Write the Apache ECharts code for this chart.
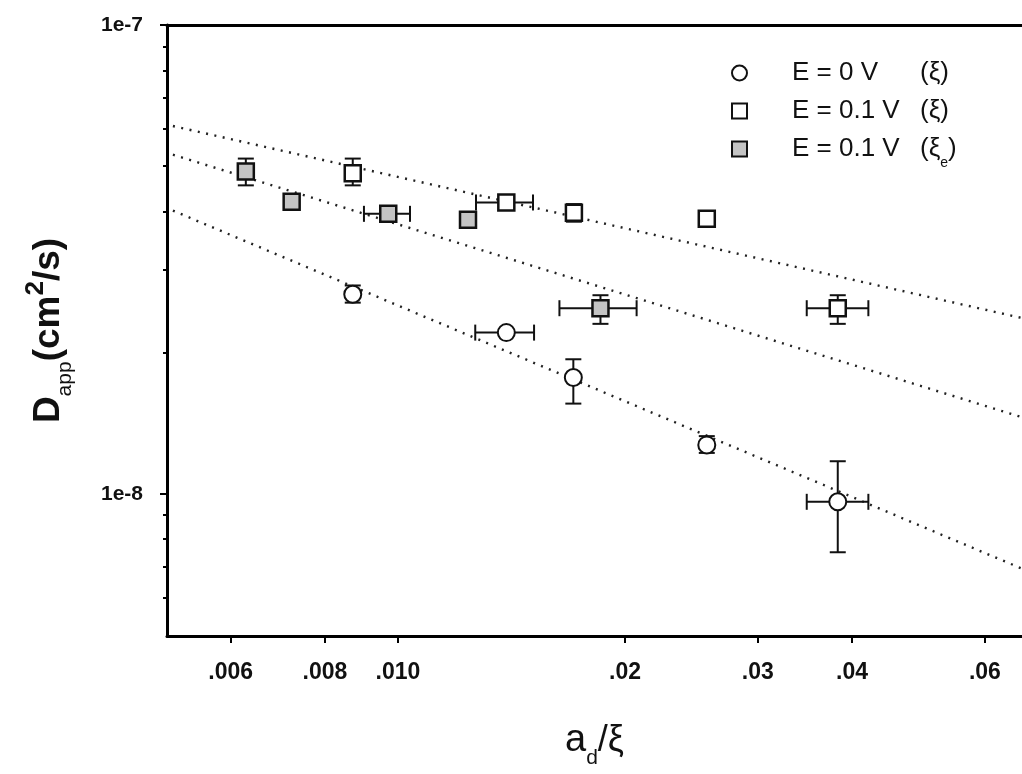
<!DOCTYPE html>
<html>
<head>
<meta charset="utf-8">
<script src="https://cdn.jsdelivr.net/npm/echarts@6/dist/echarts.min.js"></script>
<style>
  html, body { margin: 0; padding: 0; background: #fff; }
  #chart { width: 1022px; height: 774px; }
</style>
</head>
<body>
<div id="chart"></div>
<script>
// axes (both log)
const xTicks = [0.006, 0.008, 0.010, 0.02, 0.03, 0.04, 0.06];
const xTickLabels = ['.006', '.008', '.010', '.02', '.03', '.04', '.06'];
const yTicks = [1e-8, 1e-7];
const yTickLabels = ['1e-8', '1e-7'];
const yMinorTicks = [6e-9, 7e-9, 8e-9, 9e-9, 2e-8, 3e-8, 4e-8, 5e-8, 6e-8, 7e-8, 8e-8, 9e-8];

// E = 0 V (xi)
const circX = [0.00871, 0.01392, 0.01708, 0.02567, 0.03829];
const circY = [2.665e-8, 2.207e-8, 1.770e-8, 1.271e-8, 9.61e-9];
const circXLo = [null, 0.01266, null, null, 0.03483];
const circXHi = [null, 0.01515, null, null, 0.04204];
const circYLo = [2.557e-8, null, 1.557e-8, 1.222e-8, 7.50e-9];
const circYHi = [2.782e-8, null, 1.936e-8, 1.327e-8, 1.173e-8];

// E = 0.1 V (xi)
const sqX = [0.00871, 0.01392, 0.01711, 0.02567, 0.03829];
const sqY = [4.831e-8, 4.183e-8, 3.975e-8, 3.862e-8, 2.488e-8];
const sqXLo = [null, 0.01269, null, null, 0.03483];
const sqXHi = [null, 0.0151, null, null, 0.04204];
const sqYLo = [4.55e-8, null, 3.806e-8, null, 2.304e-8];
const sqYHi = [5.19e-8, null, 4.15e-8, null, 2.652e-8];

// E = 0.1 V (xi_e)
const fillX = [0.006284, 0.007228, 0.009707, 0.012383, 0.018555];
const fillY = [4.870e-8, 4.197e-8, 3.956e-8, 3.844e-8, 2.488e-8];
const fillXLo = [null, null, 0.009013, null, 0.01637];
const fillXHi = [null, null, 0.010373, null, 0.02072];
const fillYLo = [4.55e-8, null, null, null, 2.304e-8];
const fillYHi = [5.19e-8, null, null, null, 2.652e-8];

// dotted fit lines (end points)
const fitX = [0.00503, 0.0672];
const fitTop = [6.09e-8, 2.371e-8];
const fitMid = [5.29e-8, 1.456e-8];
const fitLow = [4.019e-8, 6.92e-9];

const FONT = "'Liberation Sans', Arial, sans-serif";
const NARROW = "'Liberation Sans Narrow', 'Arial Narrow', 'Liberation Sans', Arial, sans-serif";

function pts(xs, ys) {
  return xs.map((x, i) => [x, ys[i]]);
}
function errRows(xs, ys, xlo, xhi, ylo, yhi) {
  return xs.map((x, i) => [x, ys[i],
    xlo[i] != null ? xlo[i] : x, xhi[i] != null ? xhi[i] : x,
    ylo[i] != null ? ylo[i] : ys[i], yhi[i] != null ? yhi[i] : ys[i]]);
}

function line(a, b) {
  return { type: 'line', shape: { x1: a[0], y1: a[1], x2: b[0], y2: b[1] },
    style: { stroke: '#111', lineWidth: 2 } };
}

// error bars with caps
function renderErr(params, api) {
  const x = api.value(0), y = api.value(1);
  const cap = 8;
  const kids = [];
  if (api.value(2) !== api.value(3)) {
    const a = api.coord([api.value(2), y]), b = api.coord([api.value(3), y]);
    kids.push(line(a, b));
    kids.push(line([a[0], a[1] - cap], [a[0], a[1] + cap]));
    kids.push(line([b[0], b[1] - cap], [b[0], b[1] + cap]));
  }
  if (api.value(4) !== api.value(5)) {
    const a = api.coord([x, api.value(4)]), b = api.coord([x, api.value(5)]);
    kids.push(line(a, b));
    kids.push(line([a[0] - cap, a[1]], [a[0] + cap, a[1]]));
    kids.push(line([b[0] - cap, b[1]], [b[0] + cap, b[1]]));
  }
  return { type: 'group', children: kids };
}

const legendText = {
  'c': '{a|E = 0 V}{b|(ξ)}',
  's': '{a|E = 0.1 V}{b|(ξ)}',
  'f': '{a|E = 0.1 V}{b|(ξ}{e|e}{b|)}'
};

let myChart = echarts.init(document.getElementById('chart'));
const xBase = { type: 'log', min: 0.00494, max: 0.0672, logBase: 10 };
const yBase = { type: 'log', min: 4.97e-9, max: 1.0005e-7, logBase: 10 };
const axisBlack = { show: true, lineStyle: { color: '#000', width: 3 } };

var option = {
  backgroundColor: '#fff',
  animation: false,
  grid: { left: 167, right: 0, top: 25, bottom: 123 },
  legend: {
    orient: 'vertical',
    left: 726,
    top: 55,
    itemWidth: 15,
    itemHeight: 15,
    itemGap: 12,
    data: ['c', 's', 'f'],
    formatter: function (name) { return legendText[name]; },
    textStyle: {
      padding: [0, 0, 0, 40],
      rich: {
        a: { fontSize: 26, fontFamily: FONT, color: '#111', width: 128 },
        b: { fontSize: 26, fontFamily: FONT, color: '#111' },
        e: { fontSize: 14, fontFamily: FONT, color: '#111', verticalAlign: 'bottom', padding: [0, 0, -8, 0] }
      }
    }
  },
  xAxis: [
    Object.assign({}, xBase, {
      position: 'bottom',
      axisLine: axisBlack,
      splitLine: { show: false },
      axisTick: { customValues: xTicks, length: 7, lineStyle: { color: '#000', width: 2 } },
      axisLabel: {
        customValues: xTicks,
        margin: 25,
        fontSize: 23,
        fontWeight: 'bold',
        fontFamily: FONT,
        color: '#111',
        formatter: function (v) {
          const i = xTicks.findIndex(t => Math.abs(t - v) / t < 1e-6);
          return i >= 0 ? xTickLabels[i] : '';
        }
      },
      name: '{a|a}{d|d}{b|/ξ}',
      nameLocation: 'middle',
      nameGap: 86,
      nameTextStyle: {
        rich: {
          a: { fontSize: 38, fontFamily: NARROW, color: '#111' },
          d: { fontSize: 21, fontFamily: NARROW, color: '#111', verticalAlign: 'bottom', padding: [0, 0, -9, 0] },
          b: { fontSize: 36, fontFamily: NARROW, color: '#111' }
        }
      }
    }),
    Object.assign({}, xBase, {
      position: 'top',
      axisLine: axisBlack,
      axisTick: { show: false },
      axisLabel: { show: false },
      splitLine: { show: false }
    })
  ],
  yAxis: [
    Object.assign({}, yBase, {
      position: 'left',
      axisLine: axisBlack,
      splitLine: { show: false },
      axisTick: { customValues: yTicks, length: 7, lineStyle: { color: '#000', width: 2 } },
      axisLabel: {
        customValues: yTicks,
        margin: 24,
        fontSize: 21,
        fontWeight: 'bold',
        fontFamily: FONT,
        color: '#111',
        formatter: function (v) {
          const i = yTicks.findIndex(t => Math.abs(t - v) / t < 1e-6);
          return i >= 0 ? yTickLabels[i] : '';
        }
      },
      name: '{d|D}{sub|app}{m|(cm}{sup|2}{m|/s)}',
      nameLocation: 'middle',
      nameRotate: 90,
      nameGap: 100,
      nameTextStyle: {
        rich: {
          d: { fontSize: 37, fontWeight: 'bold', fontFamily: FONT, color: '#111' },
          sub: { fontSize: 21, fontFamily: NARROW, color: '#111', verticalAlign: 'bottom', padding: [0, 0, -9, 0] },
          m: { fontSize: 37, fontWeight: 'bold', fontFamily: FONT, color: '#111' },
          sup: { fontSize: 26, fontWeight: 'bold', fontFamily: FONT, color: '#111', verticalAlign: 'top', padding: [-7, 0, 0, 0] }
        }
      }
    }),
    Object.assign({}, yBase, {
      position: 'left',
      axisLine: { show: false },
      axisLabel: { show: false },
      splitLine: { show: false },
      axisTick: { customValues: yMinorTicks, length: 4, lineStyle: { color: '#000', width: 2 } }
    })
  ],
  series: [
    {
      name: 'fitTop', type: 'line', silent: true, showSymbol: false, z: 1,
      data: pts(fitX, fitTop),
      lineStyle: { color: '#222', width: 2.4, type: [2, 6.5] }
    },
    {
      name: 'fitMid', type: 'line', silent: true, showSymbol: false, z: 1,
      data: pts(fitX, fitMid),
      lineStyle: { color: '#222', width: 2.4, type: [2, 6.5] }
    },
    {
      name: 'fitLow', type: 'line', silent: true, showSymbol: false, z: 1,
      data: pts(fitX, fitLow),
      lineStyle: { color: '#222', width: 2.4, type: [2, 6.5] }
    },
    {
      name: 'err', type: 'custom', z: 2, silent: true,
      renderItem: renderErr,
      encode: { x: 0, y: 1 },
      data: errRows(circX, circY, circXLo, circXHi, circYLo, circYHi)
        .concat(errRows(sqX, sqY, sqXLo, sqXHi, sqYLo, sqYHi))
        .concat(errRows(fillX, fillY, fillXLo, fillXHi, fillYLo, fillYHi))
    },
    {
      name: 'c', type: 'scatter', z: 3, symbol: 'circle', symbolSize: 17,
      data: pts(circX, circY),
      itemStyle: { color: '#fff', borderColor: '#111', borderWidth: 2, opacity: 1 }
    },
    {
      name: 's', type: 'scatter', z: 3, symbol: 'rect', symbolSize: 16,
      data: pts(sqX, sqY),
      itemStyle: { color: '#fff', borderColor: '#111', borderWidth: 2.5, opacity: 1 }
    },
    {
      name: 'f', type: 'scatter', z: 3, symbol: 'rect', symbolSize: 16,
      data: pts(fillX, fillY),
      itemStyle: { color: '#c4c4c4', borderColor: '#111', borderWidth: 2.5, opacity: 1 }
    }
  ]
};
myChart.setOption(option);
</script>
</body>
</html>
